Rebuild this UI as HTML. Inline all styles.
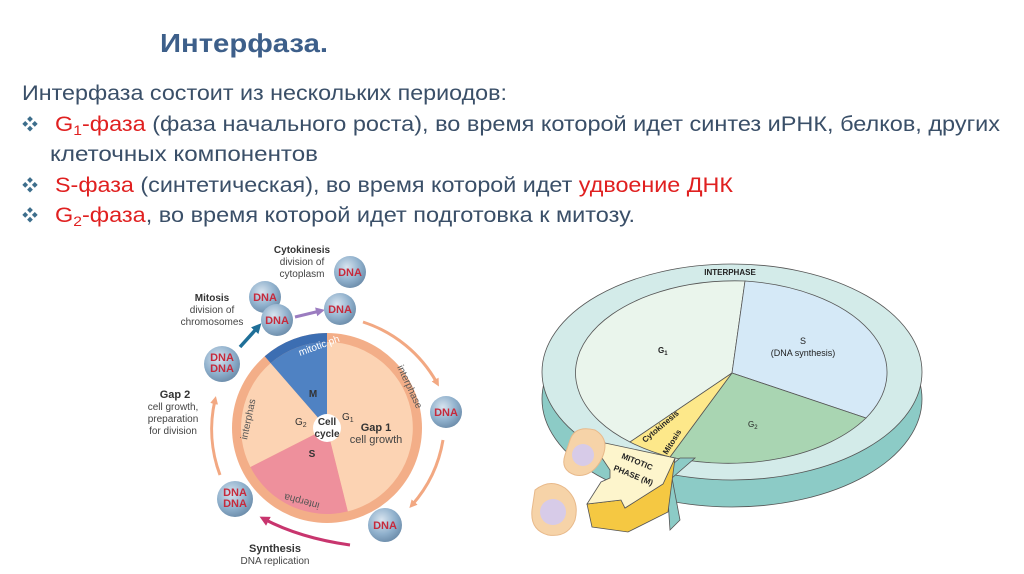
<!DOCTYPE html>
<html><head><meta charset="utf-8"><style>
html,body{margin:0;padding:0;background:#fff;}
svg{display:block;font-family:"Liberation Sans","Noto Sans CJK SC",sans-serif;}
</style></head><body>
<svg width="1024" height="574" viewBox="0 0 1024 574" xmlns="http://www.w3.org/2000/svg">
<defs>
<radialGradient id="ball" cx="0.4" cy="0.35" r="0.7">
<stop offset="0" stop-color="#d8e4ef"/><stop offset="0.6" stop-color="#8fb0cc"/><stop offset="1" stop-color="#6a8aa8"/>
</radialGradient>
<marker id="ao" markerWidth="8" markerHeight="8" refX="4" refY="4" orient="auto" markerUnits="userSpaceOnUse"><path d="M0,0 L8,4 L0,8 Z" fill="#f2a882"/></marker>
<marker id="ap" markerWidth="10" markerHeight="10" refX="5" refY="5" orient="auto" markerUnits="userSpaceOnUse"><path d="M0,0 L10,5 L0,10 Z" fill="#c8356e"/></marker>
<marker id="at" markerWidth="10" markerHeight="10" refX="5" refY="5" orient="auto" markerUnits="userSpaceOnUse"><path d="M0,0 L10,5 L0,10 Z" fill="#1f6f98"/></marker>
<marker id="av" markerWidth="9" markerHeight="9" refX="4" refY="4.5" orient="auto" markerUnits="userSpaceOnUse"><path d="M0,0 L9,4.5 L0,9 Z" fill="#9b7cc0"/></marker>
</defs>

<text x="160" y="52" font-size="26" font-weight="bold" fill="#3d5f8a" textLength="168" lengthAdjust="spacingAndGlyphs">Интерфаза.</text>
<g font-size="21" fill="#3a4f68">
<text x="22" y="100" textLength="485" lengthAdjust="spacingAndGlyphs">Интерфаза состоит из нескольких периодов:</text>
<text x="22" y="130" font-size="16" fill="#3d6e8c">❖</text>
<text x="55" y="131" textLength="945" lengthAdjust="spacingAndGlyphs"><tspan fill="#e02020">G<tspan font-size="14" dy="4">1</tspan><tspan dy="-4">-фаза</tspan></tspan> (фаза начального роста), во время которой идет синтез иРНК, белков, других</text>
<text x="50" y="161" textLength="268" lengthAdjust="spacingAndGlyphs">клеточных компонентов</text>
<text x="22" y="191" font-size="16" fill="#3d6e8c">❖</text>
<text x="55" y="192" textLength="678" lengthAdjust="spacingAndGlyphs"><tspan fill="#e02020">S-фаза</tspan> (синтетическая), во время которой идет <tspan fill="#e02020">удвоение ДНК</tspan></text>
<text x="22" y="221" font-size="16" fill="#3d6e8c">❖</text>
<text x="55" y="222" textLength="580" lengthAdjust="spacingAndGlyphs"><tspan fill="#e02020">G<tspan font-size="14" dy="4">2</tspan><tspan dy="-4">-фаза</tspan></tspan>, во время которой идет подготовка к митозу.</text>
</g>

<g>
<circle cx="327" cy="428" r="95" fill="#f3ae88"/>
<path d="M327,428 L327,342 A86,86 0 0 1 347.8,511.4 Z" fill="#fcd3b3"/>
<path d="M327,428 L347.8,511.4 A86,86 0 0 1 250.4,467 Z" fill="#ee909c"/>
<path d="M327,428 L250.4,467 A86,86 0 0 1 270.6,363.1 Z" fill="#fcd3b3"/>
<path d="M327,428 L270.6,363.1 A86,86 0 0 1 327,342 Z" fill="#4f82c3"/>
<path d="M327,428 L327,333 A95,95 0 0 0 264.7,356.3 L270.6,363.1 A86,86 0 0 1 327,342Z" fill="#3c6eb2"/>
<circle cx="327" cy="428" r="14" fill="#fff"/>
<text x="327" y="425" font-size="10" font-weight="bold" text-anchor="middle" fill="#333">Cell</text>
<text x="327" y="437" font-size="10" font-weight="bold" text-anchor="middle" fill="#333">cycle</text>
<text x="313" y="397" font-size="10" font-weight="bold" text-anchor="middle" fill="#333">M</text>
<text x="295" y="425" font-size="10" fill="#333">G<tspan font-size="7" dy="2">2</tspan></text>
<text x="342" y="420" font-size="10" fill="#333">G<tspan font-size="7" dy="2">1</tspan></text>
<text x="376" y="431" font-size="11" font-weight="bold" text-anchor="middle" fill="#333">Gap 1</text>
<text x="376" y="443" font-size="11" text-anchor="middle" fill="#444">cell growth</text>
<text x="312" y="457" font-size="10" font-weight="bold" text-anchor="middle" fill="#333">S</text>
<text x="300" y="356" font-size="10" fill="#fff" transform="rotate(-20 300 356)">mitotic ph</text>
<text x="0" y="0" font-size="10" fill="#555" transform="translate(397,367) rotate(65)">interphase</text>
<text x="0" y="0" font-size="10" fill="#555" transform="translate(247,440) rotate(-78)">interphas</text>
<text x="0" y="0" font-size="10" fill="#555" transform="translate(320,503) rotate(195)">interpha</text>
</g>
<path d="M363,322 A130,130 0 0 1 437,383" fill="none" stroke="#f2a882" stroke-width="3" marker-end="url(#ao)"/>
<path d="M443,440 A130,130 0 0 1 412,505" fill="none" stroke="#f2a882" stroke-width="3" marker-end="url(#ao)"/>
<path d="M350,545 Q300,538 264,519" fill="none" stroke="#c8356e" stroke-width="3" marker-end="url(#ap)"/>
<path d="M220,475 A130,130 0 0 1 215,400" fill="none" stroke="#f2a882" stroke-width="3" marker-end="url(#ao)"/>
<path d="M240,347 L258,327" stroke="#1f6f98" stroke-width="3.5" marker-end="url(#at)"/>
<path d="M295,317 L320,311" stroke="#9b7cc0" stroke-width="3" marker-end="url(#av)"/>
<g font-size="11" font-weight="bold" fill="#c62a3c" text-anchor="middle">
<circle cx="350" cy="272" r="16" fill="url(#ball)"/><text x="350" y="276">DNA</text>
<circle cx="265" cy="297" r="16" fill="url(#ball)"/><text x="265" y="301">DNA</text>
<circle cx="277" cy="320" r="16" fill="url(#ball)"/><text x="277" y="324">DNA</text>
<circle cx="340" cy="309" r="16" fill="url(#ball)"/><text x="340" y="313">DNA</text>
<circle cx="222" cy="364" r="18" fill="url(#ball)"/><text x="222" y="361">DNA</text><text x="222" y="372">DNA</text>
<circle cx="446" cy="412" r="16" fill="url(#ball)"/><text x="446" y="416">DNA</text>
<circle cx="385" cy="525" r="17" fill="url(#ball)"/><text x="385" y="529">DNA</text>
<circle cx="235" cy="499" r="18" fill="url(#ball)"/><text x="235" y="496">DNA</text><text x="235" y="507">DNA</text>
</g>
<g font-size="10" fill="#444" text-anchor="middle">
<text x="302" y="253" font-weight="bold" fill="#333">Cytokinesis</text>
<text x="302" y="265">division of</text>
<text x="302" y="277">cytoplasm</text>
<text x="212" y="301" font-weight="bold" fill="#333">Mitosis</text>
<text x="212" y="313">division of</text>
<text x="212" y="325">chromosomes</text>
<text x="175" y="398" font-weight="bold" fill="#333" font-size="11">Gap 2</text>
<text x="173" y="410">cell growth,</text>
<text x="173" y="422">preparation</text>
<text x="173" y="434">for division</text>
<text x="275" y="552" font-weight="bold" fill="#333" font-size="11">Synthesis</text>
<text x="275" y="564">DNA replication</text>
</g>

<ellipse cx="732" cy="399" rx="190" ry="108" fill="#8ccbc6" stroke="#555" stroke-width="0.8"/>
<ellipse cx="732" cy="372" rx="190" ry="108" fill="#d3ebe9" stroke="#555" stroke-width="0.8"/>
<path d="M732,373 L745,281 A160,92 0 0 0 630,442 Z" fill="#eaf5ec" stroke="#555" stroke-width="0.8"/>
<path d="M732,373 L745,281 A160,92 0 0 1 866,418 Z" fill="#d5e9f7" stroke="#555" stroke-width="0.8"/>
<path d="M732,373 L866,418 A160,92 0 0 1 670,457 Z" fill="#a9d5b2" stroke="#555" stroke-width="0.8"/>
<path d="M732,373 L670,457 A160,92 0 0 1 630,442 Z" fill="#fde88a" stroke="#555" stroke-width="0.8"/>
<path d="M680,458 L695,458 L672,478 L680,520 L670,530 L666,470 Z" fill="#8ccbc6" stroke="#555" stroke-width="0.8"/>
<polygon points="587,504 621,500 625,508 663,484 675,458 668,512 628,532 592,527" fill="#f5c842" stroke="#555" stroke-width="0.8"/>
<polygon points="605,443 675,458 663,484 625,508 621,500 587,504 601,482 610,478 610,470 602,458" fill="#fdf5cc" stroke="#555" stroke-width="0.8"/>
<g>
<path d="M570,440 Q575,425 595,430 Q612,440 600,462 Q590,478 575,475 Q560,470 565,455Z" fill="#f6d3a8" stroke="#e8b98a"/>
<circle cx="583" cy="455" r="11" fill="#d7cbe8"/>
<path d="M535,490 Q550,478 565,488 Q580,500 575,520 Q568,538 548,535 Q530,530 532,510Z" fill="#f6d3a8" stroke="#e8b98a"/>
<circle cx="553" cy="512" r="13" fill="#d7cbe8"/>
</g>
<g font-size="8" font-weight="bold" fill="#222">
<text x="730" y="275" text-anchor="middle">INTERPHASE</text>
<text x="658" y="353">G<tspan font-size="6" dy="2">1</tspan></text>
<text x="803" y="344" text-anchor="middle" font-weight="normal" font-size="9">S</text>
<text x="803" y="356" text-anchor="middle" font-weight="normal" font-size="9">(DNA synthesis)</text>
<text x="748" y="427" font-weight="normal">G<tspan font-size="6" dy="2">2</tspan></text>
<text x="0" y="0" transform="translate(645,443) rotate(-40)">Cytokinesis</text>
<text x="0" y="0" transform="translate(667,455) rotate(-58)">Mitosis</text>
<text x="0" y="0" transform="translate(621,458) rotate(22)">MITOTIC</text>
<text x="0" y="0" transform="translate(613,470) rotate(22)">PHASE (M)</text>
</g>
</svg>
</body></html>
